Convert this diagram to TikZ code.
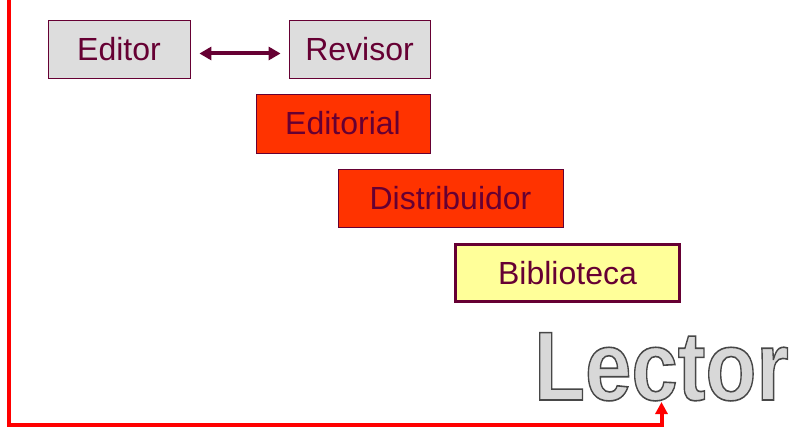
\documentclass[tikz,border=0pt]{standalone}
\usepackage{fontspec}
\setmainfont{Liberation Sans}
\usetikzlibrary{arrows.meta}
\definecolor{maroon}{HTML}{660033}
\definecolor{boxgray}{HTML}{DDDDDD}
\definecolor{orangered}{HTML}{FF3300}
\definecolor{paleyellow}{HTML}{FFFF99}
\definecolor{lectorfill}{HTML}{D8D8D8}
\newcommand{\outlinedword}[1]{{\color{lectorfill}\special{pdf:code 2 Tr 1.6 w 0.28 0.28 0.28 RG}#1\special{pdf:code 0 Tr}}}
\begin{document}
\begin{tikzpicture}[x=1pt,y=-1pt,
  box/.style={draw=maroon, line width=0.8pt, inner sep=0pt, text=maroon,
    font=\fontsize{32}{36}\selectfont},
  graybox/.style={box, fill=boxgray},
  redbox/.style={box, fill=orangered},
  yellowbox/.style={box, fill=paleyellow, line width=3pt},
  link/.style={draw=maroon, line width=4pt, {Triangle[length=12pt,width=13pt]}-{Triangle[length=12pt,width=13pt]}},
  redline/.style={draw=red, line width=4pt, -{Triangle[length=12pt,width=12pt]}}]
\useasboundingbox (0,0) rectangle (796,428);
\node[graybox, minimum width=142pt, minimum height=58pt] (editor) at (119,49) {Editor};
\node[graybox, minimum width=141pt, minimum height=58pt] (revisor) at (359.5,49) {Revisor};
\node[redbox, minimum width=174pt, minimum height=59pt] (editorial) at (343,123.5) {Editorial};
\node[redbox, minimum width=225pt, minimum height=58pt] (distribuidor) at (450.5,198) {Distribuidor};
\node[yellowbox, minimum width=224pt, minimum height=57pt] (biblioteca) at (567.5,273) {Biblioteca};
\node[inner sep=0pt, anchor=base, xscale=0.85, font=\fontsize{98}{100}\selectfont\bfseries] (lector) at (661.5,400) {\outlinedword{Lector}};
\draw[link, shorten <=9pt, shorten >=8pt] ([yshift=-4.5pt]editor.east) -- ([yshift=-4.5pt]revisor.west);
\coordinate (start) at (8.5,-3);
\coordinate (corner1) at (8.5,424.5);
\coordinate (corner2) at (661.5,424.5);
\coordinate (lectorin) at (661.5,402);
\draw[redline] (start) -- (corner1) -- (corner2) -- (lectorin);
\end{tikzpicture}
\end{document}
